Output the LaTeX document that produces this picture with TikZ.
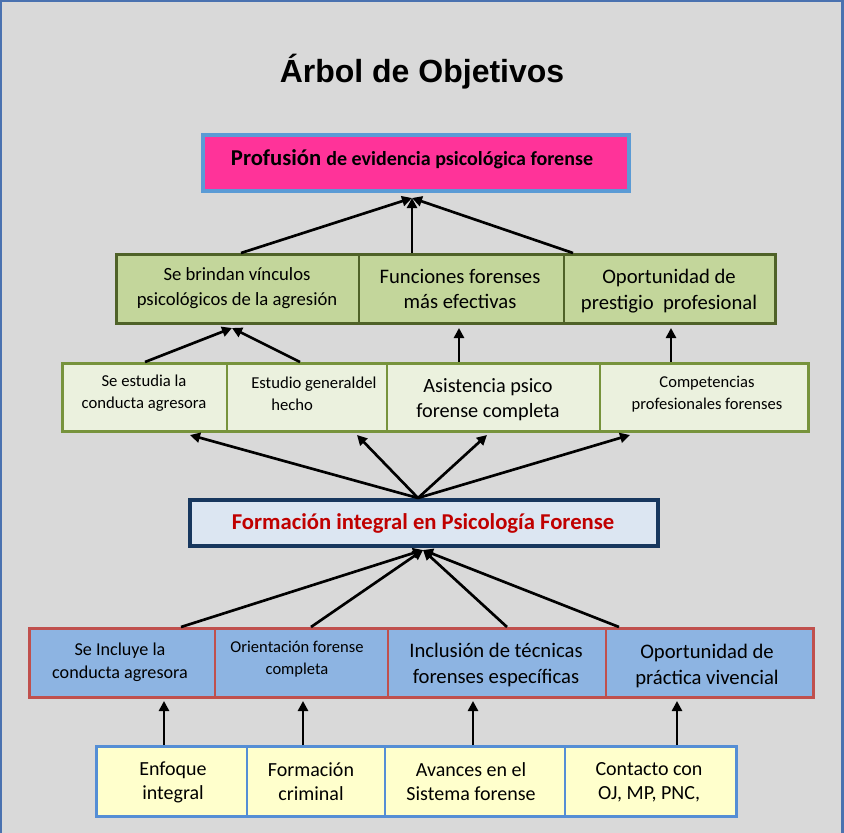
\documentclass[tikz,border=0pt]{standalone}
\usepackage{fontspec}
\setmainfont{Carlito}
\newfontfamily\titlefont{Liberation Sans}
\usetikzlibrary{arrows.meta,fit}

\definecolor{bg}{HTML}{D9D9D9}
\definecolor{frame}{HTML}{4A72B0}
\definecolor{pinkfill}{HTML}{FF3399}
\definecolor{pinkedge}{HTML}{5B9BD5}
\definecolor{gonefill}{HTML}{C3D69B}
\definecolor{goneedge}{HTML}{4F6228}
\definecolor{gtwofill}{HTML}{EBF1DE}
\definecolor{gtwoedge}{HTML}{77933C}
\definecolor{fmfill}{HTML}{DCE6F2}
\definecolor{fmedge}{HTML}{17375E}
\definecolor{fmtext}{HTML}{C00000}
\definecolor{bthreefill}{HTML}{8DB4E2}
\definecolor{bthreeedge}{HTML}{C0504D}
\definecolor{yfourfill}{HTML}{FFFFCC}
\definecolor{yfouredge}{HTML}{558ED5}

\newcommand{\fsz}[2]{\fontsize{#1}{#2}\selectfont}

\begin{document}
\begin{tikzpicture}[x=0.75pt,y=-0.75pt,
  cellbox/.style={rectangle, inner sep=0pt, outer sep=0pt},
  rowframe/.style={rectangle, inner sep=0pt, outer sep=0pt, line width=2.25pt},
  txt/.style={align=center, inner sep=0pt},
  arr/.style={line width=2pt, -{Triangle[length=7.5pt,width=7.5pt]}}]

\useasboundingbox (0,0) rectangle (844,833);
\fill[bg] (0,0) rectangle (844,833);
\draw[frame, line width=1.6pt] (1.2,0.6) rectangle (842.5,850);

% title
\node[font=\titlefont\bfseries\fsz{24}{28}] (title) at (422,72) {Árbol de Objetivos};

% top objective
\node[cellbox, fill=pinkfill, draw=pinkedge, line width=3pt, fit={(203,135) (629,191)}] (top) {};
\node[txt] (ttop) at (412,159) {\bfseries\fsz{17}{20}Profusión \fsz{15}{18}de evidencia psicológica forense};

% row 1
\node[cellbox, fill=gonefill, draw=goneedge, line width=0.8pt, fit={(116.5,254.5) (359,323.5)}] (c11) {};
\node[cellbox, fill=gonefill, draw=goneedge, line width=0.8pt, fit={(359,254.5) (564,323.5)}] (c12) {};
\node[cellbox, fill=gonefill, draw=goneedge, line width=0.8pt, fit={(564,254.5) (775.5,323.5)}] (c13) {};
\node[rowframe, draw=goneedge, fit=(c11)(c13)] (r1) {};
\node[txt, font=\fsz{14}{18.5}] (t11) at (237,288) {Se brindan vínculos\\psicológicos de la agresión};
\node[txt, font=\fsz{15.5}{19}] (t12) at (460,289) {Funciones forenses\\más efectivas};
\node[txt, font=\fsz{15.5}{19}] (t13) at (669,291) {Oportunidad de\\prestigio\ \ profesional};

% row 2
\node[cellbox, fill=gtwofill, draw=gtwoedge, line width=0.8pt, fit={(62.5,363.5) (227,431.5)}] (c21) {};
\node[cellbox, fill=gtwofill, draw=gtwoedge, line width=0.8pt, fit={(227,363.5) (387,431.5)}] (c22) {};
\node[cellbox, fill=gtwofill, draw=gtwoedge, line width=0.8pt, fit={(387,363.5) (600,431.5)}] (c23) {};
\node[cellbox, fill=gtwofill, draw=gtwoedge, line width=0.8pt, fit={(600,363.5) (808.5,431.5)}] (c24) {};
\draw[gtwoedge, line width=2pt] (c24.north west) -- (c24.south west);
\node[rowframe, draw=gtwoedge, fit=(c21)(c24)] (r2) {};
\node[txt, font=\fsz{12.5}{16.5}] (t21) at (144,393.5) {Se estudia la\\conducta agresora};
\node[txt, font=\fsz{12.5}{16.5}, align=left, anchor=west] (t22) at (251,394) {Estudio generaldel\\\hspace*{15pt}hecho};
\node[txt, font=\fsz{15.2}{19}] (t23) at (488,399.5) {Asistencia psico\\forense completa};
\node[txt, font=\fsz{12.4}{16.5}] (t24) at (707,394.5) {Competencias\\profesionales forenses};

% central objective
\node[cellbox, fill=fmfill, draw=fmedge, line width=3pt, fit={(190,500) (658,546)}] (fm) {};
\node[txt, font=\bfseries\fsz{17}{20}, text=fmtext] (tfm) at (423,523) {Formación integral en Psicología Forense};

% row 3
\node[cellbox, fill=bthreefill, draw=bthreeedge, line width=0.8pt, fit={(29.5,628.5) (215,697.5)}] (c31) {};
\node[cellbox, fill=bthreefill, draw=bthreeedge, line width=0.8pt, fit={(215,628.5) (388,697.5)}] (c32) {};
\node[cellbox, fill=bthreefill, draw=bthreeedge, line width=0.8pt, fit={(388,628.5) (606,697.5)}] (c33) {};
\node[cellbox, fill=bthreefill, draw=bthreeedge, line width=0.8pt, fit={(606,628.5) (813.5,697.5)}] (c34) {};
\node[rowframe, draw=bthreeedge, fit=(c31)(c34)] (r3) {};
\node[txt, font=\fsz{13.6}{17}] (t31) at (120,662) {Se Incluye la\\conducta agresora};
\node[txt, font=\fsz{12.4}{16}] (t32) at (297,659) {Orientación forense\\completa};
\node[txt, font=\fsz{15.5}{19}] (t33) at (496,665) {Inclusión de técnicas\\forenses específicas};
\node[txt, font=\fsz{15.5}{19}] (t34) at (707,666) {Oportunidad de\\práctica vivencial};

% row 4
\node[cellbox, fill=yfourfill, draw=yfouredge, line width=1.1pt, fit={(96.5,746.5) (247,816.5)}] (c41) {};
\node[cellbox, fill=yfourfill, draw=yfouredge, line width=1.1pt, fit={(247,746.5) (385,816.5)}] (c42) {};
\node[cellbox, fill=yfourfill, draw=yfouredge, line width=1.1pt, fit={(385,746.5) (565,816.5)}] (c43) {};
\node[cellbox, fill=yfourfill, draw=yfouredge, line width=1.1pt, fit={(565,746.5) (736.5,816.5)}] (c44) {};
\node[rowframe, draw=yfouredge, fit=(c41)(c44)] (r4) {};
\node[txt, font=\fsz{15}{18}] (t41) at (173,782) {Enfoque\\integral};
\node[txt, font=\fsz{15}{18}] (t42) at (311,782) {Formación\\criminal};
\node[txt, font=\fsz{15}{18}] (t43) at (471,782) {Avances en el\\Sistema forense};
\node[txt, font=\fsz{15}{18}] (t44) at (649,782) {Contacto con\\OJ, MP, PNC,};

% connector end points
\coordinate (pin) at (412,198);
\coordinate (a1) at (241,253);
\coordinate (a2) at (412,253);
\coordinate (a3) at (573,253);

\coordinate (p1) at (232,328);
\coordinate (p2) at (459,328);
\coordinate (p3) at (671,328);
\coordinate (b1) at (145,362);
\coordinate (b2) at (300,362);
\coordinate (b3) at (459,362);
\coordinate (b4) at (671,362);

\coordinate (f0) at (418,498);
\coordinate (q1) at (190,435);
\coordinate (q2) at (357,435);
\coordinate (q3) at (487,435);
\coordinate (q4) at (630,435);

\coordinate (f1) at (423,550);
\coordinate (d1) at (181,627);
\coordinate (d2) at (311,627);
\coordinate (d3) at (507,627);
\coordinate (d4) at (619,627);

\coordinate (g1) at (164,701);
\coordinate (g2) at (303,701);
\coordinate (g3) at (473,701);
\coordinate (g4) at (677,701);
\coordinate (e1) at (164,745);
\coordinate (e2) at (303,745);
\coordinate (e3) at (473,745);
\coordinate (e4) at (677,745);

% connectors
\draw[arr] (a1) -- (pin);
\draw[arr] (a2) -- (pin);
\draw[arr] (a3) -- (pin);

\draw[arr] (b1) -- (p1);
\draw[arr] (b2) -- (p1);
\draw[arr] (b3) -- (p2);
\draw[arr] (b4) -- (p3);

\draw[arr] (f0) -- (q1);
\draw[arr] (f0) -- (q2);
\draw[arr] (f0) -- (q3);
\draw[arr] (f0) -- (q4);

\draw[arr] (d1) -- (f1);
\draw[arr] (d2) -- (f1);
\draw[arr] (d3) -- (f1);
\draw[arr] (d4) -- (f1);

\draw[arr] (e1) -- (g1);
\draw[arr] (e2) -- (g2);
\draw[arr] (e3) -- (g3);
\draw[arr] (e4) -- (g4);
\end{tikzpicture}
\end{document}
